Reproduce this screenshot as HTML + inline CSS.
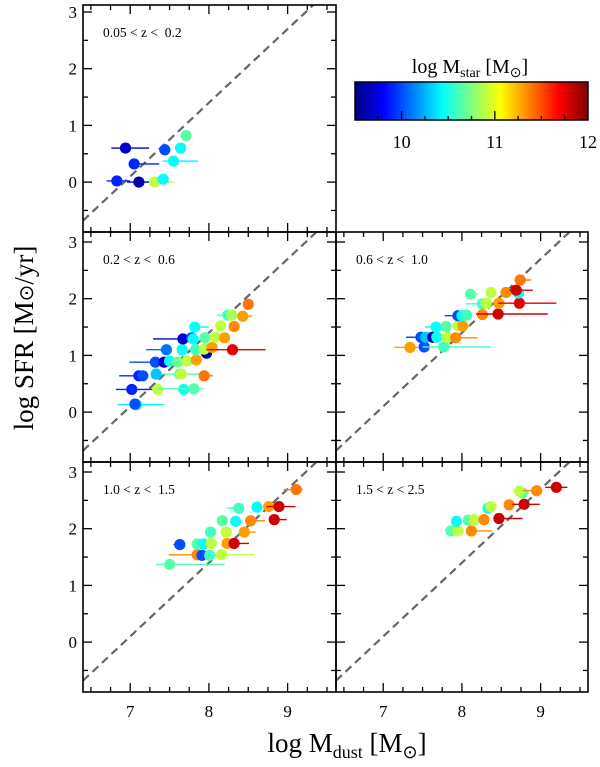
<!DOCTYPE html>
<html><head><meta charset="utf-8"><style>
html,body{margin:0;padding:0;background:#fff;}
svg{display:block;font-family:"Liberation Serif",serif;}
</style></head><body>
<svg id="chart" width="600" height="767" viewBox="0 0 600 767" xmlns="http://www.w3.org/2000/svg">
<defs>
<linearGradient id="jet" x1="0" x2="1" y1="0" y2="0">
<stop offset="0" stop-color="#00007f"/><stop offset="0.125" stop-color="#0000ff"/>
<stop offset="0.375" stop-color="#00ffff"/><stop offset="0.625" stop-color="#ffff00"/><stop offset="0.875" stop-color="#ff0000"/><stop offset="1" stop-color="#7f0000"/>
</linearGradient>
</defs>
<g id="plots"></g>
<g>
<text x="470" y="73" font-size="20" text-anchor="middle">log M<tspan font-size="14" dy="4">star</tspan><tspan dy="-4"> [M</tspan><tspan font-size="14" dy="4">⊙</tspan><tspan dy="-4">]</tspan></text>
<rect x="355" y="82" width="233" height="38" fill="url(#jet)" stroke="#000" stroke-width="1.5"/>
<g id="cbticks"></g>
</g>
<text transform="translate(33,338) rotate(-90)" font-size="27" text-anchor="middle">log SFR [M<tspan font-size="20">⊙</tspan>/yr]</text>
<text x="347" y="752" font-size="27" text-anchor="middle">log M<tspan font-size="18" dy="6">dust</tspan><tspan dy="-6"> [M</tspan><tspan font-size="18" dy="6">⊙</tspan><tspan dy="-6">]</tspan></text>
</svg>
<script>
const lineSlope = 1.30;
const lineIntercept = -9.0;
const xTicks = [7, 8, 9];
const yTicks = [0, 1, 2, 3];
const cbTicks = [10, 11, 12];
const panelLabels = ["0.05\u00a0<\u00a0z\u00a0<\u00a0\u00a00.2", "0.2\u00a0<\u00a0z\u00a0<\u00a0\u00a00.6", "0.6\u00a0<\u00a0z\u00a0<\u00a0\u00a01.0", "1.0\u00a0<\u00a0z\u00a0<\u00a0\u00a01.5", "1.5\u00a0<\u00a0z\u00a0<\u00a02.5"];
// each point: [log Mdust, log SFR, err low, err high, log Mstar]
const p1 = [[6.94,0.60,6.76,7.24,9.7],[7.05,0.32,6.98,7.37,9.9],[7.44,0.57,7.44,7.44,10.0],[7.64,0.60,7.64,7.64,10.45],[7.71,0.82,7.65,7.71,10.65],[7.55,0.37,7.41,7.86,10.45],[6.83,0.02,6.70,7.00,9.9],[7.11,0.00,6.96,7.24,9.6],[7.31,0.00,7.24,7.56,10.9],[7.42,0.05,7.42,7.42,10.45]];
const p2 = [[7.08,0.13,6.84,7.43,10.4],[7.06,0.14,7.06,7.06,10.0],[7.02,0.40,6.82,7.37,9.9],[7.35,0.40,7.35,7.35,10.9],[7.68,0.40,7.68,7.68,10.45],[7.81,0.41,7.35,7.94,10.65],[7.11,0.64,6.86,7.20,9.9],[7.16,0.64,7.16,7.16,10.0],[7.33,0.67,7.33,7.33,10.3],[7.63,0.67,7.40,8.00,10.65],[7.65,0.67,7.65,7.65,10.9],[7.94,0.64,7.94,8.05,11.4],[7.32,0.88,6.99,7.40,10.0],[7.43,0.88,7.43,7.43,9.7],[7.50,0.90,7.50,7.50,10.45],[7.60,0.88,7.60,7.60,10.7],[7.72,0.90,7.72,7.72,10.9],[7.84,0.92,7.84,7.84,11.3],[7.97,1.04,7.97,7.97,9.6],[7.46,1.10,7.20,7.50,10.1],[7.66,1.10,7.66,7.66,10.45],[7.83,1.10,7.83,7.83,10.6],[7.94,1.11,7.94,7.94,10.9],[8.04,1.14,8.04,8.04,11.3],[8.30,1.10,7.97,8.72,11.75],[7.67,1.29,7.29,7.80,9.7],[7.78,1.31,7.78,7.78,10.0],[7.80,1.29,7.80,7.80,10.45],[7.95,1.31,7.95,7.95,10.65],[8.08,1.32,8.08,8.08,10.9],[8.20,1.31,8.20,8.20,11.3],[7.82,1.50,7.82,8.00,10.45],[8.15,1.52,8.15,8.15,10.9],[8.32,1.51,8.32,8.32,11.35],[8.24,1.71,8.10,8.30,10.6],[8.29,1.71,8.29,8.40,10.85],[8.43,1.69,8.43,8.55,11.3],[8.50,1.90,8.50,8.50,11.4]];
const p3 = [[7.34,1.14,7.14,7.45,11.3],[7.52,1.15,7.52,7.52,10.0],[7.77,1.15,7.50,8.37,10.6],[7.48,1.32,7.29,7.50,10.0],[7.54,1.32,7.54,7.54,10.3],[7.63,1.32,7.63,7.63,9.6],[7.68,1.32,7.68,7.68,10.45],[7.81,1.32,7.81,7.81,10.9],[7.92,1.31,7.92,8.20,11.35],[7.67,1.50,7.53,7.70,10.45],[7.80,1.51,7.80,7.80,10.65],[7.95,1.52,7.95,7.95,10.9],[8.01,1.52,8.01,8.10,11.3],[7.95,1.70,7.78,8.00,10.0],[8.00,1.70,8.00,8.00,10.45],[8.06,1.71,8.06,8.06,10.6],[8.26,1.72,8.26,8.26,11.35],[8.46,1.73,8.18,9.09,11.8],[8.26,1.91,8.05,8.30,10.6],[8.31,1.92,8.31,8.31,10.9],[8.47,1.92,8.47,8.47,11.3],[8.73,1.92,8.46,9.20,11.75],[8.11,2.08,8.11,8.20,10.65],[8.37,2.11,8.37,8.37,10.9],[8.56,2.11,8.56,8.56,11.35],[8.72,2.10,8.72,8.72,10.45],[8.69,2.15,8.60,8.90,11.8],[8.74,2.33,8.74,8.88,11.4]];
const p4 = [[7.50,1.37,7.33,8.20,10.65],[7.85,1.54,7.49,7.85,11.35],[7.91,1.53,7.91,7.91,10.0],[8.01,1.53,8.01,8.01,10.6],[8.16,1.54,8.16,8.58,10.9],[7.63,1.72,7.55,7.63,10.0],[7.85,1.73,7.85,7.85,10.65],[7.93,1.73,7.93,7.93,10.45],[8.03,1.74,8.03,8.03,10.9],[8.23,1.74,8.23,8.23,11.3],[8.32,1.74,8.32,8.51,11.8],[8.02,1.94,8.02,8.02,10.6],[8.22,1.94,8.22,8.22,10.9],[8.45,1.94,8.45,8.60,11.3],[8.17,2.14,8.17,8.17,10.65],[8.34,2.13,8.34,8.34,10.45],[8.53,2.14,8.53,8.71,11.35],[8.83,2.16,8.83,8.99,11.8],[8.38,2.36,8.23,8.38,10.6],[8.61,2.38,8.61,8.61,10.45],[8.76,2.39,8.76,8.76,11.3],[8.89,2.39,8.73,9.10,11.8],[9.11,2.69,8.95,9.19,11.4]];
const p5 = [[7.86,1.96,7.80,7.86,10.65],[7.95,1.96,7.95,7.95,10.9],[8.12,1.96,8.12,8.38,11.35],[7.93,2.13,7.93,7.93,10.45],[8.08,2.15,8.08,8.08,10.65],[8.15,2.16,8.15,8.15,10.9],[8.28,2.16,8.28,8.28,11.35],[8.47,2.18,8.47,8.77,11.8],[8.33,2.36,8.33,8.40,10.5],[8.37,2.39,8.37,8.37,10.9],[8.60,2.42,8.60,8.60,11.35],[8.79,2.43,8.64,8.99,11.8],[8.77,2.63,8.77,8.85,10.65],[8.73,2.66,8.73,8.73,10.9],[8.95,2.67,8.77,8.95,11.35],[9.20,2.73,9.06,9.34,11.8]];
const allPanels = [p1, p2, p3, p4, p5];

const NS = "http://www.w3.org/2000/svg";
const X0 = 6.40, X1 = 9.62;
const boxes = [{l:83,t:5,w:253,h:227},{l:83,t:232,w:253,h:230},{l:336,t:232,w:252,h:230},{l:83,t:462,w:253,h:230},{l:336,t:462,w:252,h:230}];
const y3pos = [12, 242, 242, 472, 472];
const UX = 78.7, UY = 56.7;
function jet(m){const t=Math.max(0,Math.min(1,(m-9.5)/2.5));const c=v=>Math.round(255*Math.max(0,Math.min(1,v)));return `rgb(${c(1.5-Math.abs(4*t-3))},${c(1.5-Math.abs(4*t-2))},${c(1.5-Math.abs(4*t-1))})`;}
function mk(tag, attrs, parent){const e=document.createElementNS(NS,tag);for(const k in attrs)e.setAttribute(k,attrs[k]);parent.appendChild(e);return e;}
const root = document.getElementById('plots');
allPanels.forEach((pts, i) => {
  const B = boxes[i];
  const H = B.h;
  const sx = x => B.l + (x - X0) * UX;
  const sy = y => y3pos[i] + (3 - y) * UY;
  const g = mk('g', {}, root);
  
  
  const cid = 'clip' + i;
  const cp = mk('clipPath', {id: cid}, g);
  mk('rect', {x:B.l, y:B.t, width:B.w, height:H}, cp);
  const inner = mk('g', {'clip-path': `url(#${cid})`}, g);
  const xa = X0, xb = X1;
  const dl = mk('line', {x1:sx(xa), y1:sy(lineSlope*xa+lineIntercept), x2:sx(xb), y2:sy(lineSlope*xb+lineIntercept), stroke:'#666', 'stroke-width':2.2, 'stroke-dasharray':'8,5'}, inner);
  
  
  pts.forEach(p => {
    const col = jet(p[4]);
    if (p[3] > p[2]) {
      const eb = mk('line', {x1:sx(p[2]), y1:sy(p[1]), x2:sx(p[3]), y2:sy(p[1]), stroke:col, 'stroke-width':1.4}, inner);
      
      
    }
    const c = mk('circle', {cx:sx(p[0]), cy:sy(p[1]), r:5.6, fill:col}, inner);
    
    
  });
  const fr = mk('rect', {x:B.l, y:B.t, width:B.w, height:H, fill:'none', stroke:'#000', 'stroke-width':1.6}, g);
  
  
  const tk = mk('g', {stroke:'#000', 'stroke-width':1.3}, g);
  for (let v = 6.5; v <= 9.51; v += 0.25) {
    const X = sx(v); const major = Math.abs(v - Math.round(v)) < 0.01; const L = major ? 9 : 5;
    mk('line', {x1:X, y1:B.t+H, x2:X, y2:B.t+H-L}, tk);
    mk('line', {x1:X, y1:B.t, x2:X, y2:B.t+L}, tk);
  }
  for (let v = -0.5; v <= 3.01; v += 0.5) {
    const Y = sy(v); const major = Math.abs(v - Math.round(v)) < 0.01; const L = major ? 9 : 5;
    mk('line', {x1:B.l, y1:Y, x2:B.l+L, y2:Y}, tk);
    mk('line', {x1:B.l+B.w, y1:Y, x2:B.l+B.w-L, y2:Y}, tk);
  }
  if (B.l < 100) {
    yTicks.forEach(v => {
      const t = mk('text', {x:B.l-6, y:sy(v)+6, 'font-size':17, 'text-anchor':'end'}, g);
      t.textContent = v;
      
      
    });
  }
  if (i >= 3) {
    xTicks.forEach(v => {
      const t = mk('text', {x:sx(v), y:717, 'font-size':17, 'text-anchor':'middle'}, g);
      t.textContent = v;
      
      
    });
  }
  const lb = mk('text', {x:B.l+20, y:B.t+32, 'font-size':13.5}, g);
  lb.textContent = panelLabels[i];
  
  
});
const cbg = document.getElementById('cbticks');
const cbx = m => 355 + (m - 9.5) / 2.5 * 233;
for (let m = 9.75; m <= 11.8; m += 0.25) {
  const major = Math.abs(m - Math.round(m)) < 0.01;
  mk('line', {x1:cbx(m), y1:120, x2:cbx(m), y2:120-(major?9:4), stroke:'#000', 'stroke-width':1.3}, cbg);
}
cbTicks.forEach(m => {
  const t = mk('text', {x:cbx(m), y:148, 'font-size':18, 'text-anchor':'middle'}, cbg);
  t.textContent = m;
  
  
});
</script>
</body></html>
